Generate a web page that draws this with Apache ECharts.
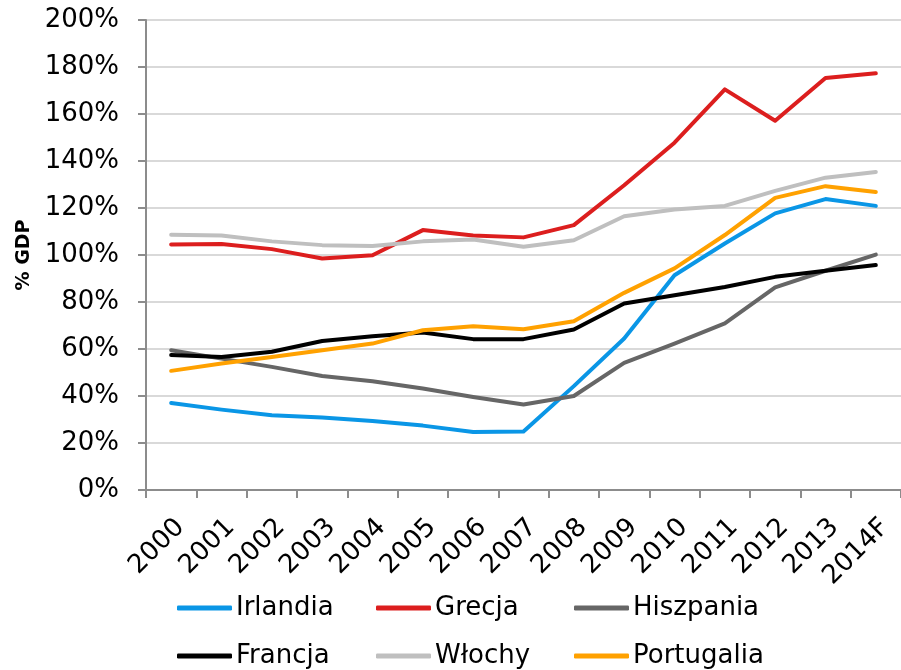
<!DOCTYPE html>
<html>
<head>
<meta charset="utf-8">
<script src="https://cdn.jsdelivr.net/npm/echarts@6/dist/echarts.min.js"></script>
<style>
html,body{margin:0;padding:0;background:#fff;}
#chart{width:901px;height:670px;}
</style>
</head>
<body>
<div id="chart"></div>
<script>
const years = ['2000','2001','2002','2003','2004','2005','2006','2007','2008','2009','2010','2011','2012','2013','2014F'];
const yTicks = [0, 20, 40, 60, 80, 100, 120, 140, 160, 180, 200];
const irlandia   = [37.0, 34.2, 31.8, 30.8, 29.4, 27.4, 24.7, 24.9, 44.2, 64.5, 91.4, 104.9, 117.7, 123.8, 120.9];
const grecja     = [104.5, 104.7, 102.5, 98.5, 99.9, 110.6, 108.3, 107.5, 112.7, 129.7, 147.8, 170.5, 157.1, 175.3, 177.3];
const hiszpania  = [59.5, 55.9, 52.4, 48.5, 46.3, 43.2, 39.6, 36.4, 40.0, 54.1, 62.3, 70.9, 86.2, 93.3, 100.2];
const francja    = [57.4, 56.6, 58.8, 63.4, 65.4, 67.0, 64.2, 64.2, 68.3, 79.4, 82.9, 86.4, 90.7, 93.3, 95.7];
const wlochy     = [108.6, 108.3, 105.8, 104.2, 103.8, 105.8, 106.6, 103.5, 106.3, 116.5, 119.4, 120.9, 127.3, 132.9, 135.3];
const portugalia = [50.7, 53.8, 56.6, 59.5, 62.3, 68.0, 69.7, 68.4, 71.8, 83.9, 94.3, 108.5, 124.3, 129.3, 126.8];

const seriesDefs = [
  {name: 'Irlandia',   data: irlandia,   color: '#0A96E6'},
  {name: 'Grecja',     data: grecja,     color: '#DC1E1E'},
  {name: 'Hiszpania',  data: hiszpania,  color: '#666666'},
  {name: 'Francja',    data: francja,    color: '#000000'},
  {name: 'Włochy',     data: wlochy,     color: '#BFBFBF'},
  {name: 'Portugalia', data: portugalia, color: '#FFA100'}
];

const FONT = 'DejaVu Sans';
const legendPos = [
  {left: 177, top: 593}, {left: 376, top: 593}, {left: 574, top: 593},
  {left: 177, top: 641}, {left: 376, top: 641}, {left: 574, top: 641}
];

const chart = echarts.init(document.getElementById('chart'), null, {renderer: 'canvas'});
chart.setOption({
  animation: false,
  backgroundColor: '#ffffff',
  textStyle: {fontFamily: FONT},
  grid: {left: 146, top: 20, right: -3, bottom: 180, containLabel: false},
  legend: seriesDefs.map((s, i) => ({
    data: [s.name],
    left: legendPos[i].left,
    top: legendPos[i].top,
    orient: 'horizontal',
    icon: 'roundRect',
    itemWidth: 55,
    itemHeight: 5,
    itemGap: 0,
    padding: 0,
    selectedMode: false,
    textStyle: {fontFamily: FONT, fontSize: 26, color: '#000', padding: [0, 0, 0, -1], lineHeight: 30}
  })),
  xAxis: {
    type: 'category',
    data: years,
    boundaryGap: true,
    axisLine: {show: true, lineStyle: {color: '#8C8C8C', width: 2}},
    axisTick: {show: true, length: 8, lineStyle: {color: '#8C8C8C', width: 2}},
    axisLabel: {
      interval: 0, rotate: 45, fontSize: 26, color: '#000', fontFamily: FONT,
      margin: 24, verticalAlign: 'top'
    },
    splitLine: {show: false}
  },
  yAxis: {
    type: 'value',
    min: 0, max: 200, interval: 20,
    name: '% GDP',
    nameLocation: 'middle',
    nameGap: 112,
    nameRotate: 90,
    nameTextStyle: {fontFamily: FONT, fontSize: 19, fontWeight: 'bold', color: '#000'},
    axisLine: {show: true, lineStyle: {color: '#8C8C8C', width: 2}},
    axisTick: {show: true, length: 8, lineStyle: {color: '#8C8C8C', width: 2}},
    axisLabel: {
      fontSize: 26, color: '#000', fontFamily: FONT, margin: 27,
      formatter: v => (yTicks.indexOf(v) >= 0 ? v + '%' : '')
    },
    splitLine: {show: true, lineStyle: {color: '#D9D9D9', width: 2}}
  },
  series: seriesDefs.map(s => ({
    name: s.name,
    type: 'line',
    data: s.data,
    smooth: false,
    showSymbol: false,
    symbol: 'none',
    color: s.color,
    lineStyle: {color: s.color, width: 4, cap: 'round', join: 'round'},
    itemStyle: {color: s.color},
    emphasis: {disabled: true}
  }))
});
</script>
</body>
</html>
